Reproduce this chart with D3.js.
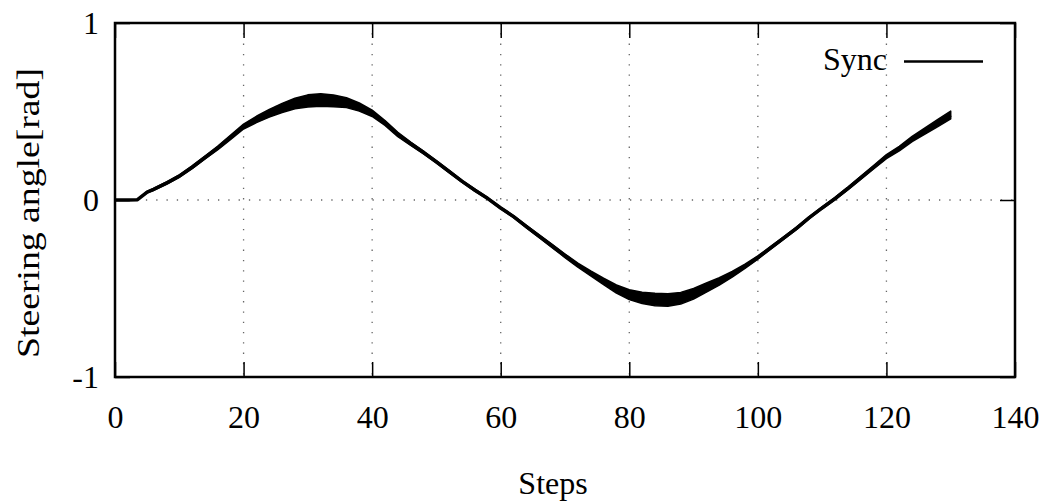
<!DOCTYPE html>
<html>
<head>
<meta charset="utf-8">
<script src="https://cdn.jsdelivr.net/npm/d3@7"></script>
<style>
body { margin: 0; background: #fff; }
text { font-family: "Liberation Serif", "Times New Roman", serif; fill: #000; }
</style>
</head>
<body>
<div id="canvas"></div>
<script>
// ----------------------------------------------------------
// DATA -----------------------------------------------------
// ----------------------------------------------------------
var steps = [0, 2, 3.5, 5, 6, 8, 10, 12, 14, 16, 18, 20, 22, 24, 26, 28, 30, 32, 34, 36, 38, 40,
42, 44, 46, 48, 50, 52, 54, 56, 58, 60, 62, 64, 66, 68, 70, 72, 74, 76, 78, 80,
82, 84, 86, 88, 90, 92, 94, 96, 98, 100, 102, 104, 106, 108, 110, 112, 114, 116, 118, 120,
122, 124, 126, 128, 130];

// steering angle (centre of the noisy trace)
var sync_angle = [0, 0, 0.002, 0.045, 0.06, 0.095, 0.135, 0.185, 0.24, 0.295, 0.355, 0.415, 0.455, 0.49, 0.52, 0.545, 0.56, 0.565, 0.56, 0.55, 0.525, 0.49,
0.435, 0.37, 0.318, 0.268, 0.215, 0.16, 0.105, 0.055, 0.008, -0.045, -0.094, -0.15, -0.205, -0.26, -0.315, -0.368, -0.415, -0.46, -0.503, -0.535,
-0.553, -0.562, -0.565, -0.555, -0.53, -0.495, -0.46, -0.42, -0.375, -0.325, -0.27, -0.215, -0.16, -0.1, -0.045, 0.008, 0.065, 0.125, 0.185, 0.245,
0.29, 0.345, 0.39, 0.435, 0.48];

// half width of the jitter band around the trace
var sync_spread = [0, 0, 0, 0.004, 0.006, 0.007, 0.007, 0.008, 0.008, 0.01, 0.012, 0.014, 0.018, 0.022, 0.026, 0.03, 0.034, 0.035, 0.033, 0.028, 0.023, 0.018,
0.014, 0.012, 0.009, 0.008, 0.007, 0.007, 0.006, 0.006, 0.005, 0.005, 0.006, 0.007, 0.008, 0.009, 0.01, 0.011, 0.014, 0.018, 0.023, 0.028,
0.032, 0.035, 0.035, 0.033, 0.03, 0.026, 0.021, 0.016, 0.012, 0.009, 0.008, 0.007, 0.007, 0.006, 0.006, 0.007, 0.008, 0.009, 0.01, 0.011,
0.013, 0.015, 0.017, 0.02, 0.022];

var x_ticks = [0, 20, 40, 60, 80, 100, 120, 140];
var y_ticks = [-1, 0, 1];

var text_x = "Steps";
var text_y = "Steering angle[rad]";
var text_legend = "Sync";

var series = steps.map(function(s, i) {
  return { x: s, y: sync_angle[i], d: sync_spread[i] };
});

// ----------------------------------------------------------
// STRUCTURE ------------------------------------------------
// ----------------------------------------------------------
var W = 1053, H = 504;
var plot = { left: 115, right: 1015, top: 23, bottom: 377 };
var tick_len = 15;
var font_size = 32;

var svg = d3.select("#canvas").append("svg")
.attr("width", W)
.attr("height", H);

var grid_group = svg.append("g").attr("class", "grid_group");
var gfx_group = svg.append("g").attr("class", "gfx_group");
var frame_group = svg.append("g").attr("class", "frame_group");
var text_group = svg.append("g").attr("class", "text_group");

// ----------------------------------------------------------
// SCALES ---------------------------------------------------
// ----------------------------------------------------------
var xScale = d3.scaleLinear()
.domain([0, 140])
.range([plot.left, plot.right]);

var yScale = d3.scaleLinear()
.domain([-1, 1])
.range([plot.bottom, plot.top]);

// plain hyphen for negatives, as in the original
var fmt = function(d) { return String(d); };

// ----------------------------------------------------------
// GRID -----------------------------------------------------
// ----------------------------------------------------------
grid_group.selectAll(".grid_x")
.data(x_ticks.slice(1, -1))
.enter().append("line")
.attr("class", "grid_x")
.attr("x1", function(d) { return xScale(d); })
.attr("x2", function(d) { return xScale(d); })
.attr("y1", plot.top)
.attr("y2", plot.bottom)
.style("stroke", "#666").style("stroke-width", 1.3).style("stroke-dasharray", "1.3,9");

grid_group.selectAll(".grid_y")
.data(y_ticks.slice(1, -1))
.enter().append("line")
.attr("class", "grid_y")
.attr("x1", plot.left)
.attr("x2", plot.right)
.attr("y1", function(d) { return yScale(d); })
.attr("y2", function(d) { return yScale(d); })
.style("stroke", "#666").style("stroke-width", 1.3).style("stroke-dasharray", "1.3,9");

// ----------------------------------------------------------
// LINE -----------------------------------------------------
// ----------------------------------------------------------
var band = d3.area()
.x(function(d) { return xScale(d.x); })
.y0(function(d) { return yScale(d.y - d.d); })
.y1(function(d) { return yScale(d.y + d.d); });

var line = d3.line()
.x(function(d) { return xScale(d.x); })
.y(function(d) { return yScale(d.y); });

gfx_group.append("path")
.datum(series)
.attr("d", band)
.style("fill", "#000")
.style("stroke", "#000").style("stroke-width", 1.5).style("stroke-linejoin", "round");

gfx_group.append("path")
.datum(series)
.attr("d", line)
.style("fill", "none").style("stroke", "#000").style("stroke-width", 3.5).style("stroke-linejoin", "round");

// ----------------------------------------------------------
// FRAME + TICKS --------------------------------------------
// ----------------------------------------------------------
// bottom axis (labels + inward ticks)
var xAxis = d3.axisBottom(xScale)
.tickValues(x_ticks)
.tickSize(-tick_len)
.tickPadding(28)
.tickFormat(fmt);

frame_group.append("g")
.attr("transform", "translate(0," + plot.bottom + ")")
.call(xAxis)
.call(function(g) {
  g.select(".domain").remove();
  g.selectAll(".tick line").style("stroke", "#000").style("stroke-width", 1.5);
  g.selectAll(".tick text").style("font-size", font_size + "px");
});

// top mirrored ticks
var xAxisTop = d3.axisTop(xScale)
.tickValues(x_ticks)
.tickSize(-tick_len)
.tickFormat("");

frame_group.append("g")
.attr("transform", "translate(0," + plot.top + ")")
.call(xAxisTop)
.call(function(g) {
  g.select(".domain").remove();
  g.selectAll(".tick line").style("stroke", "#000").style("stroke-width", 1.5);
});

// left axis
var yAxis = d3.axisLeft(yScale)
.tickValues(y_ticks)
.tickSize(-tick_len)
.tickPadding(16)
.tickFormat(fmt);

frame_group.append("g")
.attr("transform", "translate(" + plot.left + ",0)")
.call(yAxis)
.call(function(g) {
  g.select(".domain").remove();
  g.selectAll(".tick line").style("stroke", "#000").style("stroke-width", 1.5);
  g.selectAll(".tick text").style("font-size", font_size + "px");
});

// right mirrored ticks
var yAxisRight = d3.axisRight(yScale)
.tickValues(y_ticks)
.tickSize(-tick_len)
.tickFormat("");

frame_group.append("g")
.attr("transform", "translate(" + plot.right + ",0)")
.call(yAxisRight)
.call(function(g) {
  g.select(".domain").remove();
  g.selectAll(".tick line").style("stroke", "#000").style("stroke-width", 1.5);
});

// border
frame_group.append("rect")
.attr("x", plot.left)
.attr("y", plot.top)
.attr("width", plot.right - plot.left)
.attr("height", plot.bottom - plot.top)
.style("fill", "none").style("stroke", "#000").style("stroke-width", 2.5);

// ----------------------------------------------------------
// LEGEND ---------------------------------------------------
// ----------------------------------------------------------
text_group.append("text")
.attr("x", 887)
.attr("y", 70)
.attr("text-anchor", "end")
.style("font-size", font_size + "px")
.text(text_legend);

text_group.append("line")
.attr("x1", 904)
.attr("x2", 983)
.attr("y1", 61.5)
.attr("y2", 61.5)
.style("stroke", "#000").style("stroke-width", 2.5);

// ----------------------------------------------------------
// TEXT -----------------------------------------------------
// ----------------------------------------------------------
text_group.append("text")
.attr("x", 553)
.attr("y", 494)
.attr("text-anchor", "middle")
.style("font-size", font_size + "px")
.text(text_x);

text_group.append("text")
.attr("transform", "translate(39,213) rotate(-90)")
.attr("text-anchor", "middle")
.attr("textLength", 290)
.attr("lengthAdjust", "spacingAndGlyphs")
.style("font-size", font_size + "px")
.text(text_y);
</script>
</body>
</html>
